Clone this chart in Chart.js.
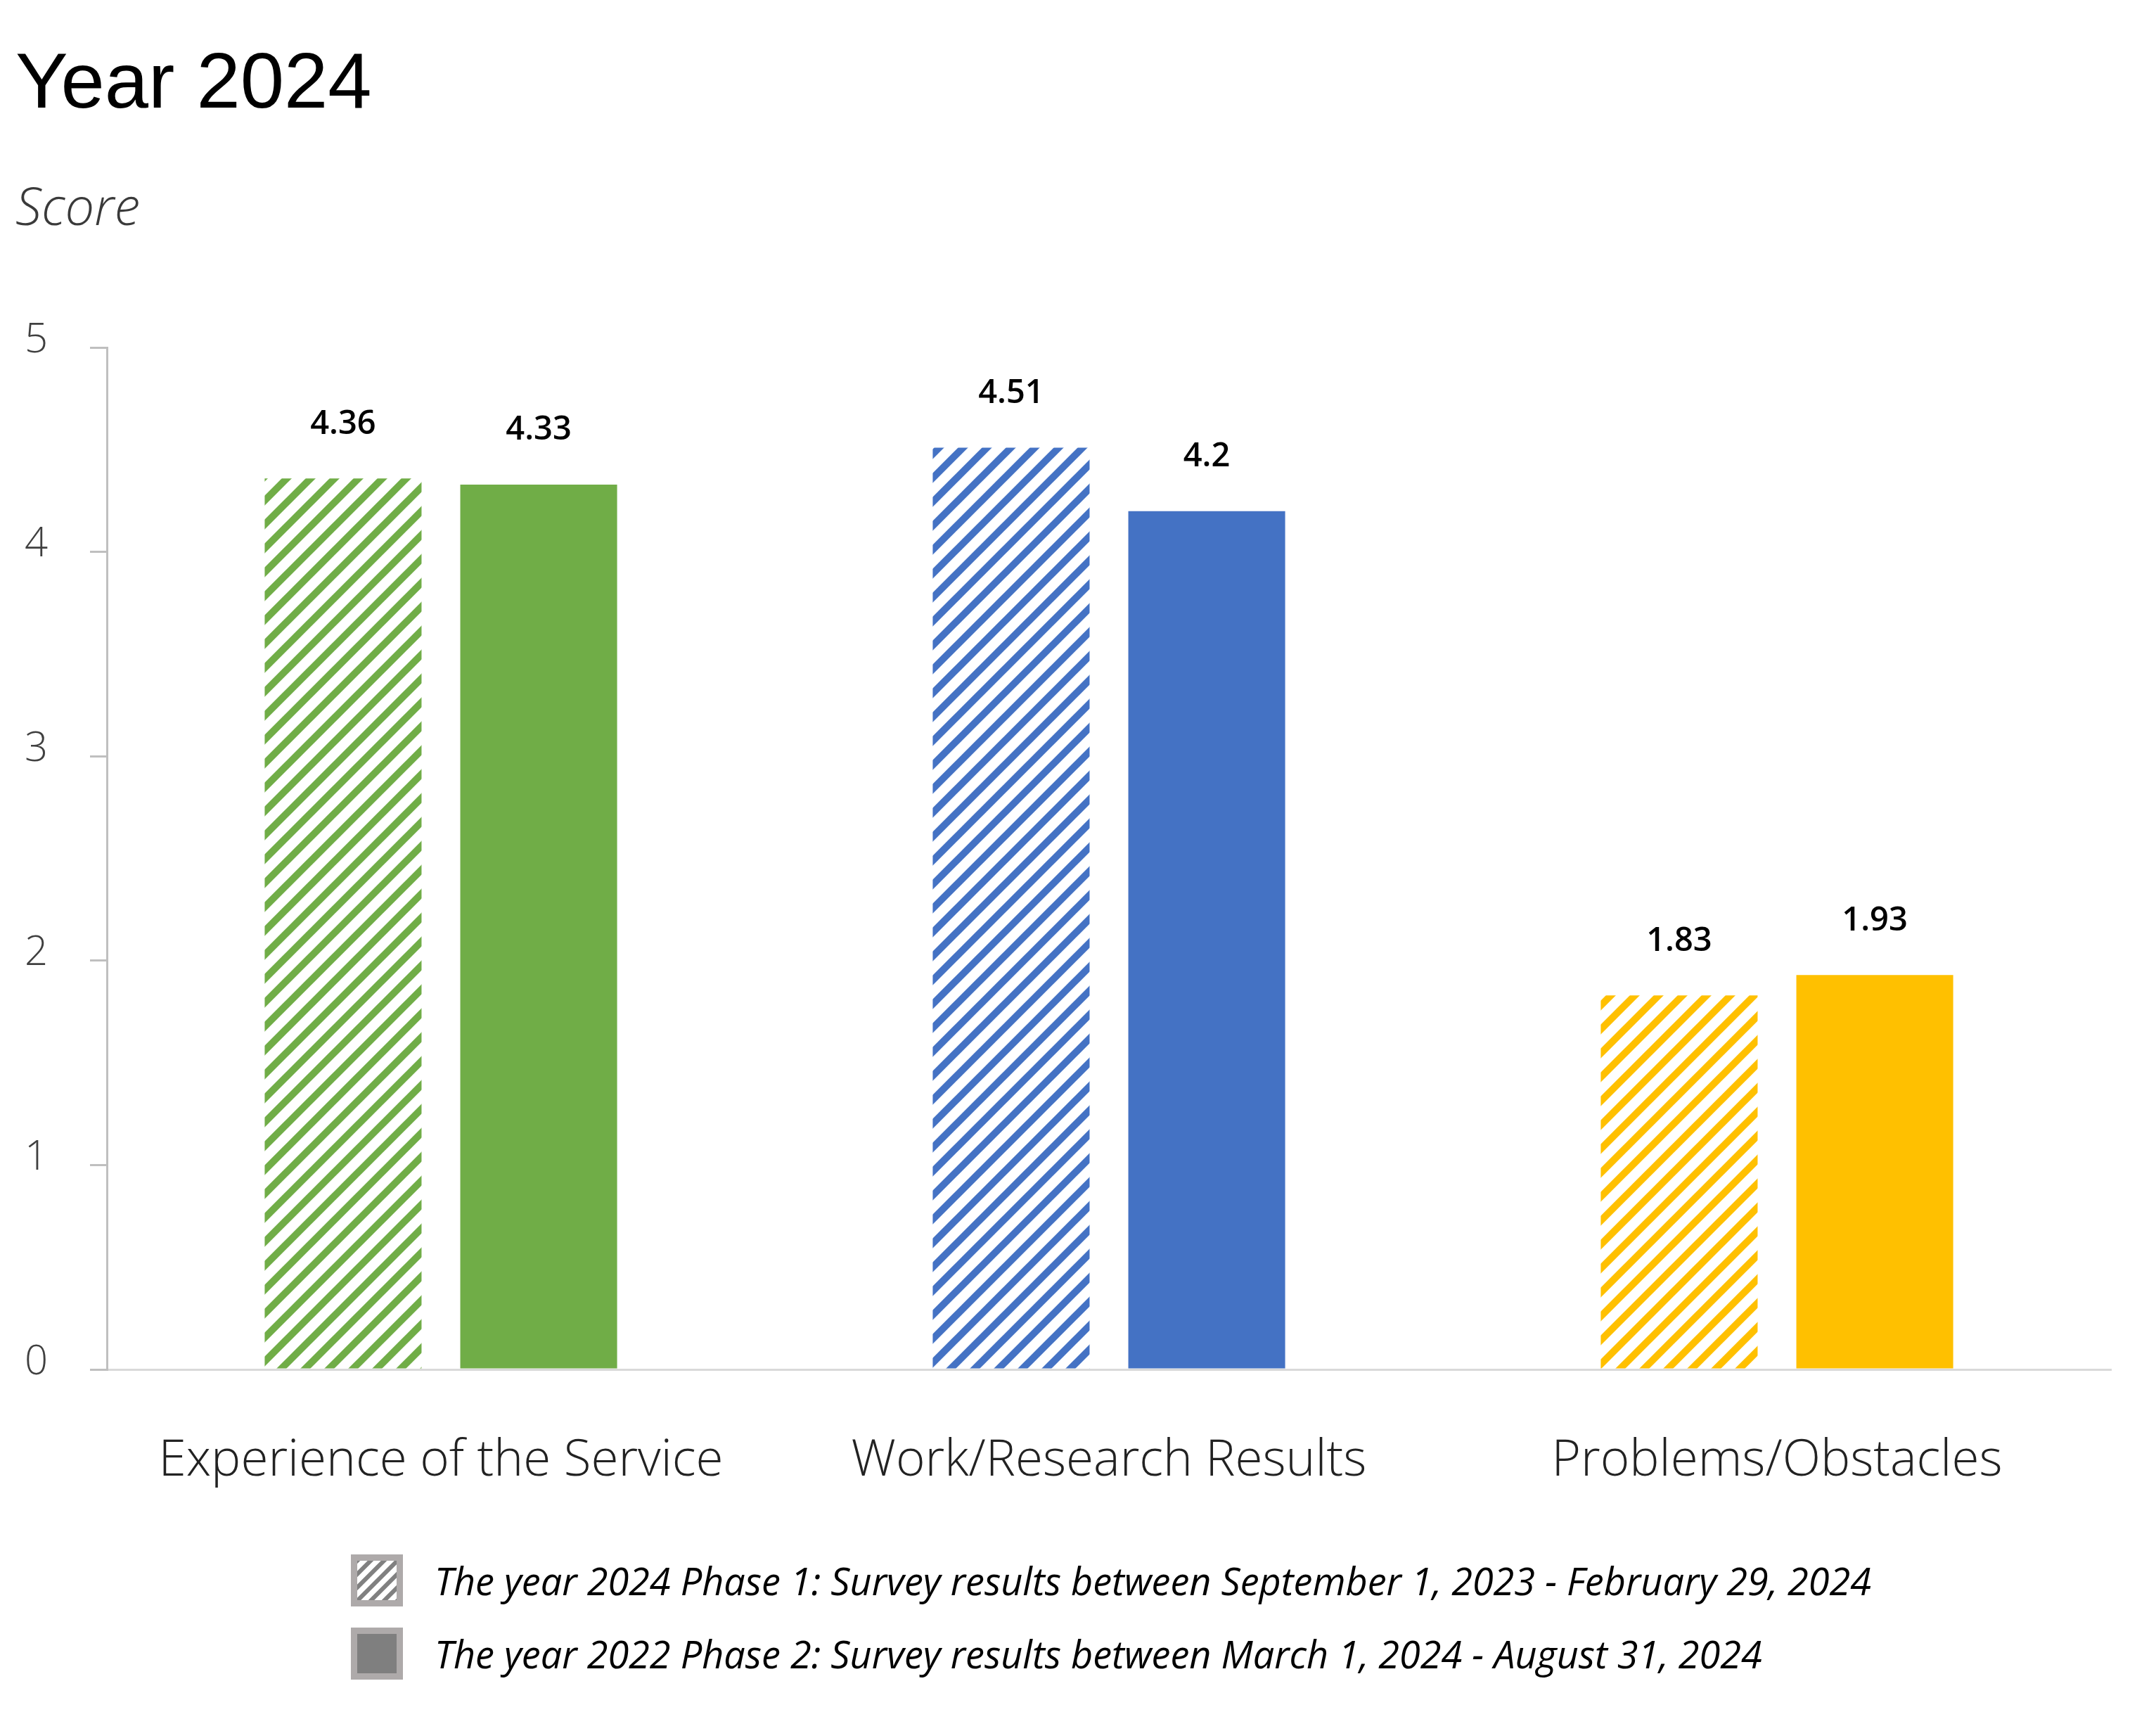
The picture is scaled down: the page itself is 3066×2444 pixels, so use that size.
<!DOCTYPE html>
<html>
<head>
<meta charset="utf-8">
<title>Year 2024</title>
<script src="https://cdn.jsdelivr.net/npm/chart.js@4"></script>
<style>
  html, body { margin: 0; padding: 0; background: #fff; }
  #wrap { position: relative; width: 3066px; height: 2444px; }
  #legend { position: absolute; left: 499px; top: 2210px; font-family: 'Open Sans', sans-serif; font-style: italic; font-size: 54px; color: #000; }
  .row { display: flex; align-items: center; height: 74px; margin-bottom: 30px; white-space: nowrap; }
  .row canvas { display: block; box-sizing: border-box; border: 9px solid #aeaaaa; width: 74px; height: 74px; margin-right: 45px; }
</style>
</head>
<body>
<div id="wrap">
  <canvas id="chart" width="3066" height="2444"></canvas>
  <div id="legend"></div>
</div>
<script>
// data
const categories = ['Experience of the Service', 'Work/Research Results', 'Problems/Obstacles'];
const phase1Scores = [4.36, 4.51, 1.83];
const phase2Scores = [4.33, 4.2, 1.93];
const seriesLabels = [
    'The year 2024 Phase 1: Survey results between September 1, 2023 - February 29, 2024',
    'The year 2022 Phase 2: Survey results between March 1, 2024 - August 31, 2024'
];
const barColors = ['#70ad47', '#4472c4', '#ffc000'];

// diagonal stripes for phase 1 bars
function makeHatch(color, size, width) {
    const c = document.createElement('canvas');
    c.width = size;
    c.height = size;
    const g = c.getContext('2d');
    g.strokeStyle = color;
    g.lineWidth = width;
    g.beginPath();
    for (const o of [-size, 0, size]) {
        g.moveTo(o - 8, size + 8);
        g.lineTo(o + size + 8, -8);
    }
    g.stroke();
    return c;
}

function hatchPattern(ctx, color) {
    return ctx.createPattern(makeHatch(color, 34, 10), 'repeat');
}

// value labels above bars
const valueLabels = {
    id: 'valueLabels',
    afterDatasetsDraw(chart) {
        const ctx = chart.ctx;
        ctx.save();
        ctx.font = '600 47px "Open Sans"';
        ctx.fillStyle = '#000';
        ctx.textAlign = 'center';
        ctx.textBaseline = 'middle';
        chart.data.datasets.forEach((ds, i) => {
            chart.getDatasetMeta(i).data.forEach((bar, j) => {
                ctx.fillText(String(ds.data[j]), bar.x, bar.y - 77);
            });
        });
        ctx.restore();
    }
};

const canvas = document.getElementById('chart');
const ctx = canvas.getContext('2d');

new Chart(ctx, {
    type: 'bar',
    data: {
        labels: categories,
        datasets: [{
            label: seriesLabels[0],
            data: phase1Scores,
            backgroundColor: barColors.map(c => hatchPattern(ctx, c)),
            borderWidth: 0
        }, {
            label: seriesLabels[1],
            data: phase2Scores,
            backgroundColor: barColors,
            borderWidth: 0
        }]
    },
    options: {
        responsive: false,
        animation: false,
        categoryPercentage: 0.5855,
        barPercentage: 0.802,
        layout: { padding: { left: 22, right: 64, top: 0, bottom: 297 } },
        plugins: {
            legend: { display: false },
            tooltip: { enabled: false },
            title: {
                display: true,
                text: 'Year 2024',
                align: 'start',
                color: '#000',
                font: { family: '"Liberation Sans", Arial', size: 112, weight: 'normal' },
                padding: { top: 55, bottom: 0 }
            },
            subtitle: {
                display: true,
                text: 'Score',
                align: 'start',
                color: '#3a3a3a',
                font: { family: '"Open Sans"', size: 74, style: 'italic', weight: 300 },
                padding: { top: 65, bottom: 151 }
            }
        },
        scales: {
            x: {
                grid: { display: false },
                border: { color: '#d9d9d9', width: 3 },
                ticks: {
                    color: '#222',
                    font: { family: '"Open Sans"', size: 71, weight: 300 },
                    padding: 80
                },
                afterFit(s) { s.height = 200; }
            },
            y: {
                min: 0,
                max: 5,
                ticks: {
                    stepSize: 1,
                    color: '#404040',
                    font: { family: '"Open Sans"', size: 58, weight: 300 },
                    padding: 60,
                    labelOffset: -10
                },
                grid: { drawOnChartArea: false, drawTicks: true, tickLength: 24, color: '#bfbfbf', lineWidth: 3 },
                border: { color: '#bfbfbf', width: 3 },
                afterFit(s) { s.width = 130; }
            }
        }
    },
    plugins: [valueLabels]
});

// legend
const legend = document.getElementById('legend');
seriesLabels.forEach((text, i) => {
    const row = document.createElement('div');
    row.className = 'row';
    const sw = document.createElement('canvas');
    sw.width = 56;
    sw.height = 56;
    const g = sw.getContext('2d');
    if (i === 0) {
        g.fillStyle = '#fff';
        g.fillRect(0, 0, 56, 56);
        g.fillStyle = g.createPattern(makeHatch('#808080', 19, 6), 'repeat');
    } else {
        g.fillStyle = '#7f7f7f';
    }
    g.fillRect(0, 0, 56, 56);
    const span = document.createElement('span');
    span.textContent = text;
    row.appendChild(sw);
    row.appendChild(span);
    legend.appendChild(row);
});
</script>
</body>
</html>
